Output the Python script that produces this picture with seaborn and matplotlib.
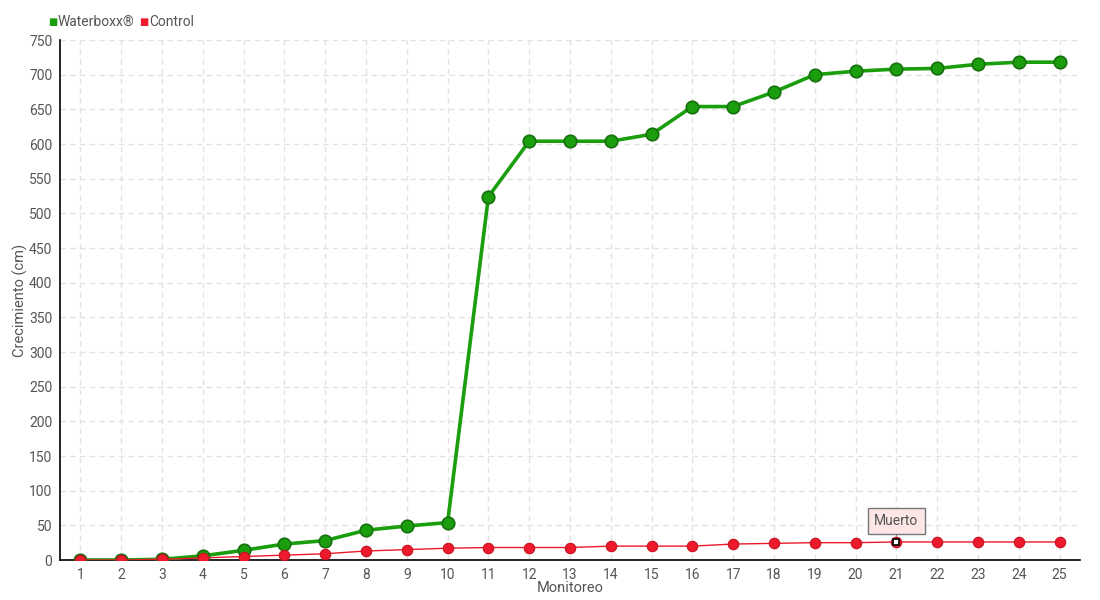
import pandas as pd
import matplotlib.pyplot as plt
import seaborn as sns

# Monitoring rounds and growth values (cm)
monitoreo = list(range(1, 26))
waterboxx = [0, 0, 1, 6, 14, 23, 28, 43, 49, 54, 524, 604, 604, 604, 614,
             654, 654, 675, 700, 705, 708, 709, 715, 718, 718]
control = [0, 0, 1, 3, 5, 7, 9, 13, 15, 17, 18, 18, 18, 20, 20,
           20, 23, 24, 25, 25, 26, 26, 26, 26, 26]
series_names = ["Waterboxx®", "Control"]
muerto_idx = 21

df = pd.DataFrame({"Monitoreo": monitoreo, "Waterboxx": waterboxx, "Control": control})

sns.set_style("white")
plt.rcParams["font.family"] = ["Roboto", "DejaVu Sans"]

fig = plt.figure(figsize=(11, 6), dpi=100)
ax = fig.add_axes([60 / 1100, 40 / 600, 1020 / 1100, 520 / 600])

green = "#1a9e0e"
red = "#ec1a2c"

sns.lineplot(data=df, x="Monitoreo", y="Waterboxx", ax=ax, color=green, linewidth=2.6,
             marker="o", markersize=9, markeredgecolor="#17700e", markeredgewidth=1.2,
             zorder=4)
sns.lineplot(data=df, x="Monitoreo", y="Control", ax=ax, color=red, linewidth=1,
             marker="o", markersize=7.5, markeredgecolor="#c8101f", markeredgewidth=0.8,
             zorder=5)

# "Muerto" point: hollow marker
mx = monitoreo[muerto_idx - 1]
my = control[muerto_idx - 1]
ax.plot([mx], [my], marker="s", markersize=5, markerfacecolor="white",
        markeredgecolor="black", markeredgewidth=1.2, zorder=7)
ax.annotate("Muerto", xy=(mx, my), xytext=(0, 15), textcoords="offset points",
            ha="center", va="center", fontsize=10, color="#555555",
            bbox=dict(boxstyle="square,pad=0.45", fc="#fde6e6", ec="#777777", lw=1),
            arrowprops=dict(arrowstyle="-", color="#777777", lw=0.8, shrinkA=0, shrinkB=4),
            zorder=8)

ax.set_xlim(0.5, 25.5)
ax.set_ylim(0, 750)
ax.set_xticks(monitoreo)
ax.set_yticks(range(0, 751, 50))
ax.grid(True, color="#e2e2e2", linestyle=(0, (4, 3)), linewidth=1)
ax.set_axisbelow(True)

for s in ["top", "right"]:
    ax.spines[s].set_visible(False)
for s in ["left", "bottom"]:
    ax.spines[s].set_color("black")
    ax.spines[s].set_linewidth(1.2)

ax.tick_params(axis="both", colors="black", labelcolor="#555555", labelsize=10,
               length=4, width=1, direction="inout")
ax.set_xlabel("Monitoreo", color="#555555", fontsize=10.5)
ax.set_ylabel("Crecimiento (cm)", color="#555555", fontsize=10.5)
ax.xaxis.set_label_coords(0.5, -0.04)
ax.yaxis.set_label_coords(-0.031, 0.5)

# legend at top-left
ly = 1 - 22 / 600
fig.text(48 / 1100, ly, "\u25a0", color=green, fontsize=7, va="center")
fig.text(58 / 1100, ly, series_names[0], color="#555555", fontsize=10, va="center")
fig.text(139 / 1100, ly, "\u25a0", color=red, fontsize=7, va="center")
fig.text(149 / 1100, ly, series_names[1], color="#555555", fontsize=10, va="center")

fig.savefig("out.png", dpi=100)
